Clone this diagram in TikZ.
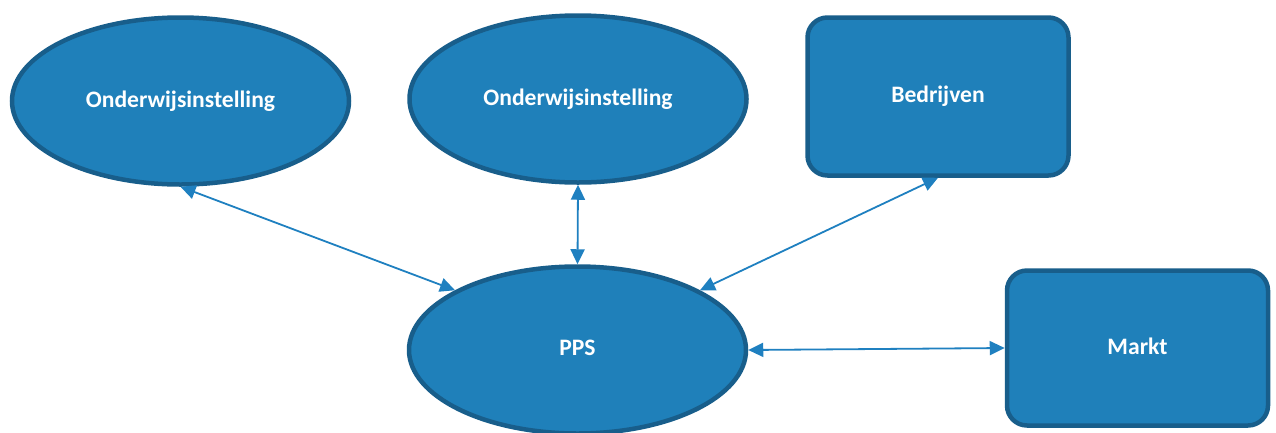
\documentclass[tikz,border=0pt]{standalone}
\usepackage{fontspec}
\setmainfont{Carlito}
\usetikzlibrary{arrows.meta,shapes.geometric}
\definecolor{boxfill}{HTML}{1F80BA}
\definecolor{boxline}{HTML}{185E8B}
\definecolor{arrowcol}{HTML}{1F80C0}
\tikzset{
  base/.style={fill=boxfill,draw=boxline,line width=4.5pt,text=white,font=\fontsize{23.6}{27}\selectfont\bfseries,inner sep=0pt,text depth=4pt},
  oval/.style={base,ellipse,minimum width=337pt,minimum height=167pt},
  rbox/.style={base,rectangle,rounded corners=20pt,minimum width=261pt,minimum height=157pt},
  link/.style={draw=arrowcol,line width=1.8pt,{Triangle[length=15pt,width=14pt]}-{Triangle[length=15pt,width=14pt]}}
}
\begin{document}
\begin{tikzpicture}[x=1pt,y=-1pt]
\useasboundingbox (0,0) rectangle (1276,432);
\node[oval] (e1) at (180.5,101) {Onderwijsinstelling};
\node[oval] (e2) at (578,99) {Onderwijsinstelling};
\node[rbox,minimum height=158pt] (bed) at (938,96.5) {Bedrijven};
\node[oval] (pps) at (577.5,350) {PPS};
\node[rbox,minimum height=155pt] (markt) at (1137.5,348) {Markt};
\draw[link] (e1.south) -- (pps.154);
\draw[link] (e2.south) -- (pps.north);
\draw[link] (bed.south) -- (pps.26);
\draw[link] (pps.east) -- (markt.west);
\end{tikzpicture}
\end{document}
